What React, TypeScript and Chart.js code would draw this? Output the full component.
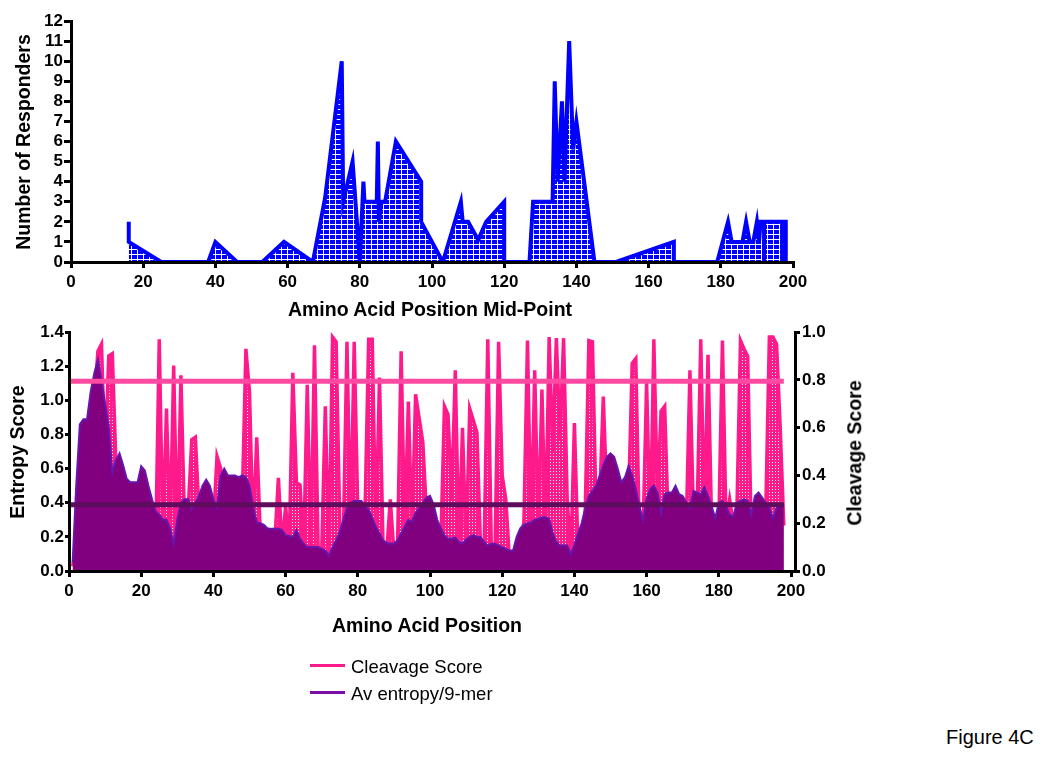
import React, { useEffect, useRef } from "react";
import { Chart, registerables } from "chart.js";

Chart.register(...registerables);

const FONT = '"Liberation Sans", Arial, Helvetica, sans-serif';

// ---------- Top panel: number of responders vs amino acid mid-point ----------
const responderPos = [
  16, 16, 25, 38, 40, 46, 53, 59, 67, 70.4, 75, 75.4, 78, 80, 81, 81.3, 84.7, 85, 85.3, 86,
  87, 90, 97, 97, 103, 108, 108.5, 110, 112.8, 115, 120, 120, 127, 128, 133.4, 134, 134.8, 136, 136.7, 138,
  139.1, 140, 145, 151, 167, 167, 179, 182, 183, 186, 187, 188, 189, 190, 190.6, 191, 192, 192, 192, 197,
  197, 197, 198, 198,
];
const responderCount = [
  2, 1, 0, 0, 1, 0, 0, 1, 0, 3.2, 10, 3, 5, 0, 4, 3, 3, 6, 2, 3,
  3, 6, 4, 2, 0, 3, 2, 2, 1.1, 2, 3, 0, 0, 3, 3, 9, 4, 8, 4, 11,
  5.6, 7, 0, 0, 1, 0, 0, 2, 1, 1, 2, 1, 1, 2, 1, 2, 2, 0, 2, 2,
  0, 2, 2, 0,
];
const topXTicks = [0, 20, 40, 60, 80, 100, 120, 140, 160, 180, 200];
const responderTicks = [0, 1, 2, 3, 4, 5, 6, 7, 8, 9, 10, 11, 12];

// ---------- Bottom panel: entropy and cleavage score per amino acid position ----------
const cleavageScore = [
  0.02, 0.1, 0.15, 0.2, 0.2, 0.3, 0.7, 0.92, 0.95, 0.45,
  0.9, 0.91, 0.45, 0.2, 0.2, 0.15, 0.15, 0.2, 0.2, 0.25,
  0.2, 0.15, 0.12, 0.1, 0.97, 0.15, 0.68, 0.15, 0.86, 0.1,
  0.82, 0.2, 0.25, 0.55, 0.56, 0.25, 0.2, 0.2, 0.2, 0.2,
  0.48, 0.43, 0.25, 0.2, 0.2, 0.2, 0.2, 0.3, 0.93, 0.75,
  0.15, 0.56, 0.15, 0.12, 0.1, 0.1, 0.12, 0.39, 0.1, 0.27,
  0.1, 0.83, 0.37, 0.36, 0.08, 0.78, 0.08, 0.945, 0.1, 0.08,
  0.69, 0.05, 0.98, 0.96, 0.2, 0.15, 0.96, 0.15, 0.96, 0.25,
  0.2, 0.25, 0.97, 0.97, 0.15, 0.81, 0.1, 0.08, 0.3, 0.08,
  0.1, 0.92, 0.15, 0.71, 0.15, 0.74, 0.64, 0.54, 0.25, 0.25,
  0.2, 0.15, 0.12, 0.69, 0.655, 0.3, 0.84, 0.1, 0.6, 0.1,
  0.68, 0.63, 0.58, 0.1, 0.1, 0.97, 0.08, 0.08, 0.96, 0.4,
  0.3, 0.05, 0.05, 0.1, 0.15, 0.2, 0.965, 0.15, 0.84, 0.15,
  0.76, 0.15, 0.98, 0.5, 0.975, 0.55, 0.975, 0.3, 0.06, 0.62,
  0.08, 0.15, 0.25, 0.965, 0.96, 0.25, 0.3, 0.73, 0.3, 0.3,
  0.3, 0.3, 0.3, 0.3, 0.3, 0.87, 0.89, 0.15, 0.15, 0.79,
  0.15, 0.97, 0.3, 0.67, 0.69, 0.2, 0.2, 0.25, 0.25, 0.2,
  0.2, 0.84, 0.2, 0.25, 0.97, 0.2, 0.905, 0.2, 0.15, 0.2,
  0.965, 0.2, 0.3, 0.2, 0.25, 0.965, 0.93, 0.9, 0.15, 0.2,
  0.25, 0.2, 0.25, 0.98, 0.98, 0.95, 0.6, 0.19,
];
const entropyScore = [
  0.05, 0.5, 0.86, 0.89, 0.89, 1.05, 1.16, 1.24, 1.12, 0.98,
  0.85, 0.58, 0.65, 0.69, 0.62, 0.54, 0.52, 0.52, 0.52, 0.615,
  0.59, 0.5, 0.42, 0.35, 0.33, 0.3, 0.3, 0.25, 0.16, 0.3,
  0.4, 0.42, 0.42, 0.36, 0.4, 0.44, 0.5, 0.535, 0.5, 0.42,
  0.37, 0.56, 0.6, 0.56, 0.56, 0.56, 0.55, 0.56, 0.55, 0.5,
  0.38, 0.285, 0.28, 0.27, 0.25, 0.247, 0.247, 0.247, 0.24, 0.21,
  0.205, 0.2, 0.24, 0.19, 0.16, 0.14, 0.14, 0.14, 0.14, 0.13,
  0.12, 0.09, 0.14, 0.18, 0.23, 0.3, 0.37, 0.4, 0.41, 0.41,
  0.41, 0.38, 0.36, 0.31, 0.26, 0.22, 0.18, 0.165, 0.16, 0.16,
  0.18, 0.22, 0.26, 0.3, 0.29, 0.34, 0.37, 0.4, 0.43, 0.44,
  0.39, 0.3, 0.25, 0.21, 0.19, 0.19, 0.195, 0.17, 0.16, 0.185,
  0.2, 0.21, 0.2, 0.2, 0.17, 0.15, 0.16, 0.16, 0.15, 0.14,
  0.13, 0.12, 0.12, 0.2, 0.25, 0.27, 0.28, 0.285, 0.3, 0.305,
  0.315, 0.315, 0.305, 0.22, 0.17, 0.15, 0.15, 0.15, 0.1, 0.15,
  0.22, 0.28, 0.37, 0.44, 0.47, 0.5, 0.56, 0.62, 0.67, 0.69,
  0.67, 0.6, 0.52, 0.55, 0.615, 0.56, 0.48, 0.38, 0.3, 0.42,
  0.48, 0.5, 0.46, 0.34, 0.45, 0.46, 0.46, 0.5, 0.45, 0.44,
  0.4, 0.37, 0.47, 0.46, 0.45, 0.49, 0.44, 0.38, 0.31, 0.4,
  0.41, 0.38, 0.33, 0.32, 0.4, 0.41, 0.42, 0.41, 0.33, 0.44,
  0.46, 0.43, 0.4, 0.37, 0.31, 0.37, 0.38, 0.39,
];
const cleavageThreshold = 0.795;
const entropyThreshold = 0.388;
const thresholdSpan = [0, 198];
const bottomXTicks = [0, 20, 40, 60, 80, 100, 120, 140, 160, 180, 200];
const entropyTicks = [0, 0.2, 0.4, 0.6, 0.8, 1.0, 1.2, 1.4];
const cleavageTicks = [0, 0.2, 0.4, 0.6, 0.8, 1.0];

const PINK = "#ff1a8c";
const PINK_LINE = "#ff4aa2";
const PURPLE_FILL = "#800080";
const PURPLE_LINE = "#6616ad";
const PURPLE_THRESH = "#5e0c5e";

function makeGridPattern(): CanvasPattern | string {
  const c = document.createElement("canvas");
  c.width = 6;
  c.height = 5;
  const g = c.getContext("2d");
  if (!g) return "#0000ff";
  g.fillStyle = "#0000ff";
  g.fillRect(0, 0, 6, 5);
  g.fillStyle = "#ffffff";
  g.fillRect(5, 0, 1, 5);
  g.fillRect(0, 4, 6, 1);
  return g.createPattern(c, "repeat") || "#0000ff";
}

function makeDotPattern(): CanvasPattern | string {
  const c = document.createElement("canvas");
  c.width = 3;
  c.height = 3;
  const g = c.getContext("2d");
  if (!g) return PINK;
  g.fillStyle = PINK;
  g.fillRect(0, 0, 3, 3);
  g.fillStyle = "#ffffff";
  g.fillRect(1, 1, 1, 1);
  return g.createPattern(c, "repeat") || PINK;
}

const tickFont = { family: FONT, size: 17, weight: "bold" as const };

function axisGrid(len: number) {
  return { drawOnChartArea: false, drawTicks: true, tickLength: len, color: "#000", lineWidth: 3 };
}
const axisBorder = { color: "#000", width: 3, z: 1 };

export default function App() {
  const topRef = useRef<HTMLCanvasElement>(null);
  const botRef = useRef<HTMLCanvasElement>(null);

  useEffect(() => {
    document.body.style.margin = "0";
    const bluePattern = makeGridPattern();
    const pinkPattern = makeDotPattern();

    const top = new Chart(topRef.current as HTMLCanvasElement, {
      type: "line",
      data: {
        datasets: [
          {
            data: responderPos.map((x, i) => ({ x, y: responderCount[i] })),
            borderColor: "#0000ff",
            borderWidth: 4,
            backgroundColor: bluePattern as any,
            fill: "origin",
            pointRadius: 0,
            tension: 0,
          },
        ],
      },
      options: {
        responsive: false,
        animation: false,
        events: [],
        layout: { padding: { left: 0, top: 21, right: 257, bottom: 0 } },
        plugins: { legend: { display: false }, tooltip: { enabled: false } },
        scales: {
          x: {
            type: "linear",
            min: 0,
            max: 200,
            afterBuildTicks: (s: any) => {
              s.ticks = topXTicks.map((v) => ({ value: v }));
            },
            afterFit: (s: any) => {
              s.height = 58;
            },
            grid: axisGrid(6),
            border: axisBorder,
            ticks: { color: "#000", font: tickFont, padding: 4, maxRotation: 0, autoSkip: false },
          },
          y: {
            type: "linear",
            min: 0,
            max: 12,
            afterBuildTicks: (s: any) => {
              s.ticks = responderTicks.map((v) => ({ value: v }));
            },
            afterFit: (s: any) => {
              s.width = 71;
            },
            grid: axisGrid(7),
            border: axisBorder,
            ticks: { color: "#000", font: tickFont, padding: 1, autoSkip: false },
          },
        },
      },
    } as any);

    const positions = entropyScore.map((_, i) => i + 1);

    const bottom = new Chart(botRef.current as HTMLCanvasElement, {
      type: "line",
      data: {
        datasets: [
          {
            data: thresholdSpan.map((x) => ({ x, y: cleavageThreshold })),
            yAxisID: "y2",
            borderColor: PINK_LINE,
            borderWidth: 5,
            pointRadius: 0,
            fill: false,
          },
          {
            data: thresholdSpan.map((x) => ({ x, y: entropyThreshold })),
            yAxisID: "y",
            borderColor: PURPLE_THRESH,
            borderWidth: 5,
            pointRadius: 0,
            fill: false,
          },
          {
            label: "Av entropy/9-mer",
            data: positions.map((x, i) => ({ x, y: entropyScore[i] })),
            yAxisID: "y",
            borderColor: PURPLE_LINE,
            borderWidth: 2,
            backgroundColor: PURPLE_FILL,
            fill: "origin",
            pointRadius: 0,
            tension: 0,
          },
          {
            label: "Cleavage Score",
            data: positions.map((x, i) => ({ x, y: cleavageScore[i] })),
            yAxisID: "y2",
            borderColor: PINK,
            borderWidth: 3.5,
            backgroundColor: pinkPattern as any,
            fill: "origin",
            pointRadius: 0,
            tension: 0,
          },
        ],
      },
      options: {
        responsive: false,
        animation: false,
        events: [],
        layout: { padding: { left: 0, top: 10, right: 205, bottom: 0 } },
        plugins: { legend: { display: false }, tooltip: { enabled: false } },
        scales: {
          x: {
            type: "linear",
            min: 0,
            max: 201.1,
            afterBuildTicks: (s: any) => {
              s.ticks = bottomXTicks.map((v) => ({ value: v }));
            },
            afterFit: (s: any) => {
              s.height = 49;
            },
            grid: axisGrid(6),
            border: axisBorder,
            ticks: { color: "#000", font: tickFont, padding: 4, maxRotation: 0, autoSkip: false },
          },
          y: {
            type: "linear",
            position: "left",
            min: 0,
            max: 1.4,
            afterBuildTicks: (s: any) => {
              s.ticks = entropyTicks.map((v) => ({ value: v }));
            },
            afterFit: (s: any) => {
              s.width = 69;
            },
            grid: axisGrid(4),
            border: axisBorder,
            ticks: {
              color: "#000",
              font: tickFont,
              padding: 1,
              autoSkip: false,
              callback: (v: any) => Number(v).toFixed(1),
            },
          },
          y2: {
            type: "linear",
            position: "right",
            min: 0,
            max: 1,
            afterBuildTicks: (s: any) => {
              s.ticks = cleavageTicks.map((v) => ({ value: v }));
            },
            afterFit: (s: any) => {
              s.width = 50;
            },
            grid: axisGrid(5),
            border: axisBorder,
            ticks: {
              color: "#000",
              font: tickFont,
              padding: 2,
              autoSkip: false,
              callback: (v: any) => Number(v).toFixed(1),
            },
          },
        },
      },
    } as any);

    return () => {
      top.destroy();
      bottom.destroy();
    };
  }, []);

  const titleStyle: React.CSSProperties = {
    position: "absolute",
    fontFamily: FONT,
    fontWeight: "bold",
    fontSize: 19.5,
    lineHeight: 1,
    whiteSpace: "nowrap",
    color: "#000",
  };
  const rotated = (cx: number, cy: number): React.CSSProperties => ({
    ...titleStyle,
    left: cx,
    top: cy,
    transform: "translate(-50%, -50%) rotate(-90deg)",
  });
  const legendText: React.CSSProperties = {
    position: "absolute",
    fontFamily: FONT,
    fontSize: 18.5,
    lineHeight: 1,
    whiteSpace: "nowrap",
    color: "#000",
    left: 351,
  };

  return (
    <div style={{ position: "relative", width: 1050, height: 762, background: "#fff", overflow: "hidden" }}>
      <canvas
        ref={topRef}
        width={1050}
        height={320}
        style={{ position: "absolute", left: 0, top: 0, width: 1050, height: 320 }}
      />
      <canvas
        ref={botRef}
        width={1050}
        height={300}
        style={{ position: "absolute", left: 0, top: 320, width: 1050, height: 300 }}
      />
      <div style={rotated(23.5, 141.5)}>Number of Responders</div>
      <div style={{ ...titleStyle, left: 430, top: 300, transform: "translateX(-50%)" }}>
        Amino Acid Position Mid-Point
      </div>
      <div style={rotated(17.5, 451.5)}>Entropy Score</div>
      <div style={{ ...titleStyle, left: 427, top: 616, transform: "translateX(-50%)" }}>Amino Acid Position</div>
      <div style={rotated(855, 452.5)}>Cleavage Score</div>

      <div style={{ position: "absolute", left: 310, top: 663.5, width: 35, height: 3, background: PINK }} />
      <div style={{ ...legendText, top: 658 }}>Cleavage Score</div>
      <div style={{ position: "absolute", left: 310, top: 690.5, width: 35, height: 3, background: "#7a0fa8" }} />
      <div style={{ ...legendText, top: 684.6 }}>Av entropy/9-mer</div>

      <div
        style={{
          position: "absolute",
          left: 946,
          top: 727,
          fontFamily: FONT,
          fontSize: 20,
          lineHeight: 1,
          whiteSpace: "nowrap",
          color: "#000",
        }}
      >
        Figure 4C
      </div>
    </div>
  );
}
